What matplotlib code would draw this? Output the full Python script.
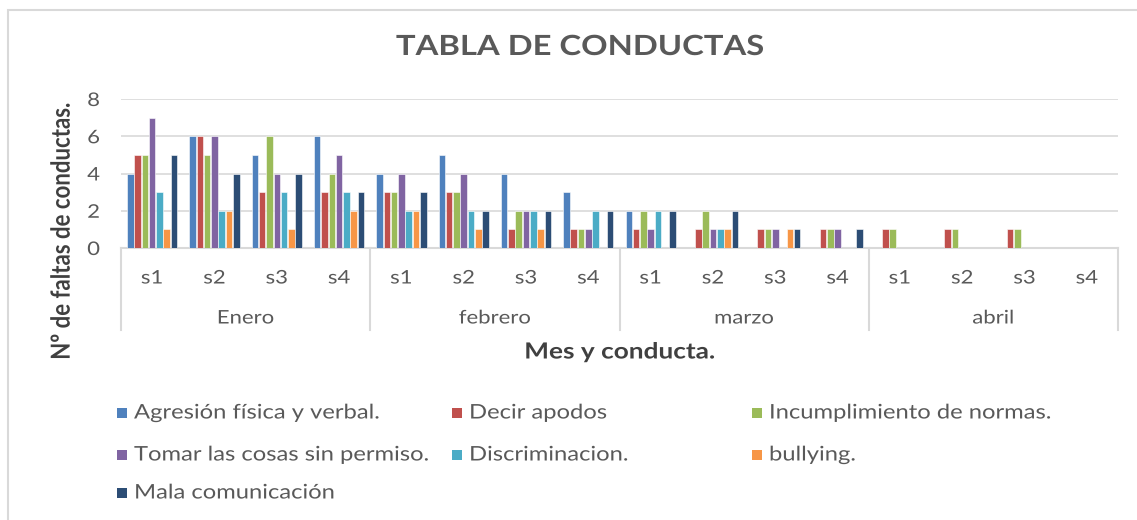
import matplotlib
matplotlib.use("Agg")
import matplotlib.pyplot as plt
import matplotlib.transforms as mtransforms
from matplotlib.patches import Rectangle
from matplotlib.patheffects import AbstractPathEffect
import numpy as np

plt.rcParams['font.family'] = ['Lato', 'DejaVu Sans']

months = ["Enero", "febrero", "marzo", "abril"]
weeks = ["s1", "s2", "s3", "s4"]
series_names = ["Agresión física y verbal.", "Decir apodos", "Incumplimiento de normas.",
                "Tomar las cosas sin permiso.", "Discriminacion.", "bullying.", "Mala comunicación"]
colors = ["#4F81BD", "#C0504D", "#9BBB59", "#8064A2", "#4BACC6", "#F79646", "#2C4D75"]

agresion       = [4, 6, 5, 6,  4, 5, 4, 3,  2, 0, 0, 0,  0, 0, 0, 0]
decir_apodos   = [5, 6, 3, 3,  3, 3, 1, 1,  1, 1, 1, 1,  1, 1, 1, 0]
incumplimiento = [5, 5, 6, 4,  3, 3, 2, 1,  2, 2, 1, 1,  1, 1, 1, 0]
tomar          = [7, 6, 4, 5,  4, 4, 2, 1,  1, 1, 1, 1,  0, 0, 0, 0]
discriminacion = [3, 2, 3, 3,  2, 2, 2, 2,  2, 1, 0, 0,  0, 0, 0, 0]
bullying       = [1, 2, 1, 2,  2, 1, 1, 0,  0, 1, 1, 0,  0, 0, 0, 0]
mala_com       = [5, 4, 4, 3,  3, 2, 2, 2,  2, 2, 1, 1,  0, 0, 0, 0]
series = [agresion, decir_apodos, incumplimiento, tomar, discriminacion, bullying, mala_com]

W, H = 1137, 520
SX = 1.18  # horizontal stretch of the reference's text


class HStretch(AbstractPathEffect):
    """Stretch glyphs horizontally around a fixed pixel x (text stays real text)."""
    def __init__(self, x0, sx=SX):
        super().__init__()
        self.x0 = x0
        self.sx = sx

    def draw_path(self, renderer, gc, tpath, affine, rgbFace=None):
        t = affine + mtransforms.Affine2D().translate(-self.x0, 0).scale(self.sx, 1).translate(self.x0, 0)
        renderer.draw_path(gc, tpath, t, rgbFace)


fig = plt.figure(figsize=(W / 100, H / 100), dpi=100)


def fx(px):
    return px / W


def fy(py):
    return 1 - py / H


def ptext(px, py, s, ha="center", **kw):
    """Figure text placed in pixel coordinates, stretched around its anchor."""
    t = fig.text(fx(px), fy(py), s, ha=ha, va="center", **kw)
    t.set_path_effects([HStretch(px)])
    return t


# chart border
fig.patches.append(Rectangle((fx(8), fy(530)), fx(1140) - fx(8), fy(10) - fy(530),
                             transform=fig.transFigure, fill=False, edgecolor="#D9D9D9", lw=1.5))

ax_l, ax_r, ax_t, ax_b = 121, 1118, 99, 248
ax = fig.add_axes([fx(ax_l), fy(ax_b), fx(ax_r) - fx(ax_l), fy(ax_t) - fy(ax_b)])

n = len(months) * len(weeks)
x = np.arange(n)
step = 0.117
bw = 0.105
for i, (vals, c, name) in enumerate(zip(series, colors, series_names)):
    ax.bar(x + (i - 3) * step, vals, width=bw, color=c, edgecolor="white", linewidth=0.4,
           label=name, zorder=3)

ax.set_xlim(-0.5, n - 0.5)
ax.set_ylim(0, 8)
ax.set_yticks([0, 2, 4, 6, 8])
ax.yaxis.grid(True, color="#D9D9D9", lw=1.2, zorder=0)
ax.set_axisbelow(True)
for s in ["top", "right", "left"]:
    ax.spines[s].set_visible(False)
ax.spines["bottom"].set_color("#D9D9D9")
ax.spines["bottom"].set_linewidth(1.5)
ytick_right = 100
ax.tick_params(axis="y", length=0, labelsize=13.5, labelcolor="#595959",
               pad=(ax_l - ytick_right) * 72 / 100)
for lab in ax.get_yticklabels():
    lab.set_path_effects([HStretch(ytick_right)])
ax.tick_params(axis="x", length=0, labelbottom=False)

axh = ax_b - ax_t
trans = mtransforms.blended_transform_factory(ax.transData, ax.transAxes)


def data_to_px(xd):
    return ax_l + (xd + 0.5) / n * (ax_r - ax_l)


for m, month in enumerate(months):
    for w, wk in enumerate(weeks):
        xd = m * 4 + w
        t = ax.text(xd, -30 / axh, wk, transform=trans, ha="center", va="center",
                    fontsize=13.5, color="#595959")
        t.set_path_effects([HStretch(data_to_px(xd))])
    xd = m * 4 + 1.5
    t = ax.text(xd, -70 / axh, month, transform=trans, ha="center", va="center",
                fontsize=13.5, color="#595959")
    t.set_path_effects([HStretch(data_to_px(xd))])
for b in range(len(months) + 1):
    ax.plot([b * 4 - 0.5, b * 4 - 0.5], [0, -82 / axh], transform=trans, color="#D9D9D9",
            lw=1.5, clip_on=False)

ptext(580, 47, "TABLA DE CONDUCTAS", fontsize=20, fontweight="bold", color="#595959")
ptext(62, 231, "Nº de faltas de conductas.", rotation=90, fontsize=16, fontweight="bold",
      color="#404040")
ptext(620, 352, "Mes y conducta.", fontsize=16, fontweight="bold", color="#404040")

# legend (row-major, as in the reference)
col_x = [117, 452, 752]
row_y = [413, 455, 493]
for i, (name, c) in enumerate(zip(series_names, colors)):
    r, col = divmod(i, 3)
    px, py = col_x[col], row_y[r]
    fig.patches.append(Rectangle((fx(px), fy(py + 5)), fx(10), 10 / H, transform=fig.transFigure,
                                 facecolor=c, edgecolor="none"))
    ptext(px + 17, py, name, ha="left", fontsize=14.5, color="#595959")

fig.savefig("out.png", dpi=100)
